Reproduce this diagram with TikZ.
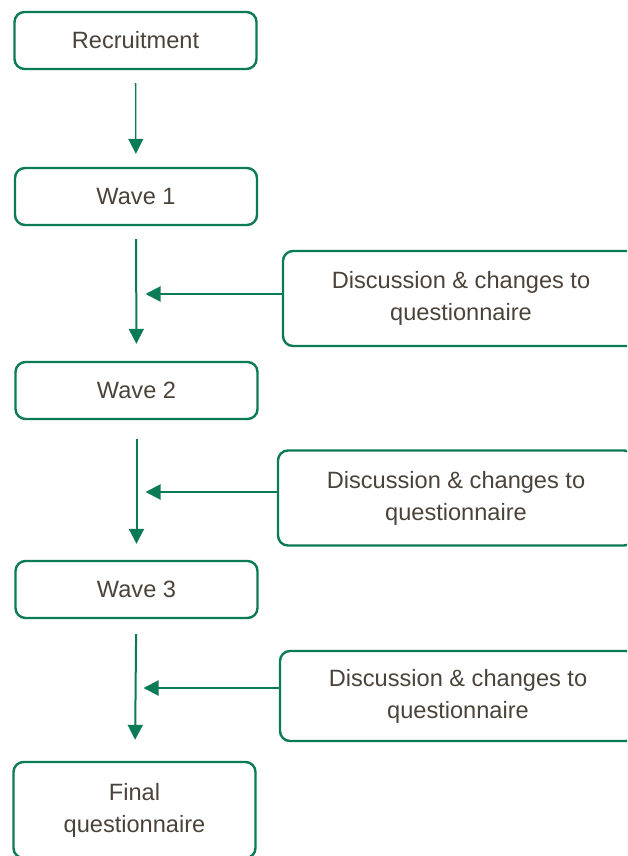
\documentclass[tikz,border=0pt]{standalone}
\usepackage{fontspec}
\setmainfont{Liberation Sans}
\usetikzlibrary{arrows.meta}
\definecolor{flowgreen}{HTML}{0B7A56}
\definecolor{flowtext}{HTML}{4B4339}
\tikzset{
    stage/.style={draw=flowgreen, line width=1.2pt, rounded corners=5pt, align=center, text=flowtext, minimum width=121pt, minimum height=28.5pt, inner sep=0pt}, % boxes on the left
    review/.style={stage, minimum width=178pt, minimum height=47.5pt}, % boxes on the right
    flow/.style={flowgreen, line width=1pt, -{Triangle[width=7.5pt,length=7.5pt]}} % green connectors
}

\begin{document}
\begin{tikzpicture}[x=0.5pt, y=-0.5pt, font=\fontsize{11.8}{16}\selectfont]
    \useasboundingbox (0,0) rectangle (627,856);
    \clip (0,0) rectangle (627,856);

    % left column
    \node[stage] (rec) at (135.5,40.5) {Recruitment};
    \node[stage] (w1) at (136,196.5) {Wave 1};
    \node[stage] (w2) at (136.5,390.5) {Wave 2};
    \node[stage] (w3) at (136.5,589.5) {Wave 3};
    \node[stage, minimum height=48pt] (fin) at (134.5,810) {Final\\questionnaire};

    % right column
    \node[review] (d1) at (461,298.5) {Discussion \& changes to\\questionnaire};
    \node[review] (d2) at (456,498) {Discussion \& changes to\\questionnaire};
    \node[review, minimum height=45pt] (d3) at (458,696) {Discussion \& changes to\\questionnaire};

    \draw[flow, line width=0.65pt, shorten <=6.5pt, shorten >=6.5pt] (rec) -- (w1);
    \draw[flow, shorten <=6.5pt, shorten >=8.5pt] (w1) -- (w2);
    \draw[flow, shorten <=9.5pt, shorten >=8pt] (w2) -- (w3);
    \draw[flow, shorten <=7.5pt, shorten >=10.5pt] (w3) -- (fin);

    % feedback into the column, a little above the box centre
    \coordinate (e1) at ([yshift=2.25pt]d1.west);
    \coordinate (e2) at ([yshift=3pt]d2.west);
    \coordinate (e3) at ([yshift=4pt]d3.west);
    \draw[flow, shorten >=4.75pt] (e1) -- (e1 -| w1.south);
    \draw[flow, shorten >=4.5pt] (e2) -- (e2 -| w2.south);
    \draw[flow, shorten >=3.5pt] (e3) -- (e3 -| w3.south);
\end{tikzpicture}
\end{document}
